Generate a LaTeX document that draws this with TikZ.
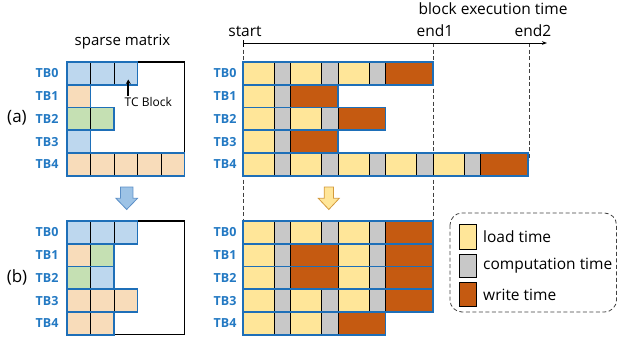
\documentclass[tikz,border=0pt]{standalone}
\usepackage{fontspec}
\setmainfont{Open Sans}
\usetikzlibrary{arrows.meta}

\definecolor{rowblue}{HTML}{1E6FB8}
\definecolor{lblblue}{HTML}{2379C3}
\definecolor{tileblue}{HTML}{BDD7EE}
\definecolor{tileorange}{HTML}{F8DCBA}
\definecolor{tilegreen}{HTML}{C5E0B3}
\definecolor{segL}{HTML}{FFE699}
\definecolor{segC}{HTML}{C8C8C8}
\definecolor{segW}{HTML}{C55A11}
\definecolor{arrblue}{HTML}{9DC3E6}
\definecolor{arrblueedge}{HTML}{5B8FC7}
\definecolor{arryellow}{HTML}{FFE699}
\definecolor{arryellowedge}{HTML}{D39A3C}
\definecolor{guide}{HTML}{404040}

\newcommand\rowh{22.75}
% one row of tiles in the sparse matrix: top y, tile count, tile colours
\newcommand\tilerow[3]{%
  \foreach \clr [count=\i from 0] in {#3}
    \filldraw[fill=\clr, draw=black, line width=0.9pt] ({67+23.5*\i},#1) rectangle ++(23.5,\rowh);
  \draw[rowblue, line width=1.8pt] (67,#1) rectangle ++({23.5*#2},\rowh);
}

% one row of the execution timeline: top y, list of phases (L load, C compute, W write)
\def\wL{31}\def\wC{16.5}\def\wW{47.5}
\newcommand\timerow[2]{%
  \gdef\xcur{243}%
  \foreach \ph in {#2}{%
    \pgfmathsetmacro\xnext{\xcur+\csname w\ph\endcsname}%
    \filldraw[fill=seg\ph, draw=black, line width=0.9pt] (\xcur,#1) rectangle (\xnext,#1+\rowh);%
    \global\let\xcur\xnext
  }%
  \draw[rowblue, line width=1.8pt] (243,#1) rectangle (\xcur,#1+\rowh);
}

% fat down arrow: centre x, shaft half width, head half width, fill, edge
\newcommand\fatarrow[5]{%
  \filldraw[fill=#4, draw=#5, line width=0.8pt, line join=miter]
    ({#1-#2},187) -- ({#1+#2},187) -- ({#1+#2},198.3) -- ({#1+#3},198.3)
    -- (#1,209.5) -- ({#1-#3},198.3) -- ({#1-#2},198.3) -- cycle;
}

\begin{document}
\begin{tikzpicture}[x=1pt,y=-1pt,
  tb/.style={text=lblblue, font=\bfseries\fontsize{12.5}{14}\selectfont, inner sep=0pt},
  big/.style={font=\fontsize{15.5}{18}\selectfont, inner sep=0pt},
  guideline/.style={guide, line width=0.8pt, dash pattern=on 4pt off 2.5pt},
  swatch/.style={draw=black, line width=0.9pt}]
\useasboundingbox (0,0) rectangle (618,340);

% ---------- titles and time axis ----------
\node[big, font=\fontsize{15}{18}\selectfont] (title) at (122.5,42) {sparse matrix};
\node[big] (betime) at (493,9) {block execution time};
\node[big] (start) at (245,31) {start};
\node[big] (end1) at (435,31) {end1};
\node[big] (end2) at (533,31) {end2};

\coordinate (t0) at (243,43);
\coordinate (t1) at (433.3,43);
\coordinate (t2) at (529,43);
\coordinate (tend) at (547,43);
\draw[guideline] (t0) -- (243,220);
\draw[guideline] (t1) -- (433.3,220);
\draw[guideline] (t2) -- (529,160);
\draw[line width=0.8pt, -{Stealth[length=5pt,width=3.6pt]}] (t0) -- (tend);
\draw[line width=0.8pt] (243,40) -- (243,46.5);

% ---------- case (a) ----------
\node[big, font=\fontsize{17}{20}\selectfont] (la) at (17,118) {(a)};
\draw[black, line width=1.3pt] (67,62) rectangle (184.5,175.75);
\tilerow{62}{3}{tileblue,tileblue,tileblue}
\tilerow{84.75}{1}{tileorange}
\tilerow{107.5}{2}{tilegreen,tilegreen}
\tilerow{130.25}{1}{tileblue}
\tilerow{153}{5}{tileorange,tileorange,tileorange,tileorange,tileorange}

\node[font=\fontsize{12}{14}\selectfont, inner sep=1pt, anchor=north] (tc) at (148.3,96) {TC Block};
\coordinate (tctip) at (128.3,79.5);
\draw[line width=1.7pt, -{Stealth[length=4.5pt,width=5pt]}] (tc.north west -| tctip) -- (tctip);

\timerow{62}{L,C,L,C,L,C,W}
\timerow{84.75}{L,C,W}
\timerow{107.5}{L,C,L,C,W}
\timerow{130.25}{L,C,W}
\timerow{153}{L,C,L,C,L,C,L,C,L,C,W}

\foreach \k/\y in {0/73.4,1/96.1,2/118.9,3/141.6,4/164.4}{
  \node[tb] (mla\k) at (47,\y) {TB\k};
  \node[tb] (tla\k) at (225,\y) {TB\k};
}

% ---------- reordering arrows ----------
\fatarrow{126.7}{6.2}{10.8}{arrblue}{arrblueedge}
\fatarrow{328.8}{4.6}{10.5}{arryellow}{arryellowedge}

% ---------- case (b) ----------
\node[big, font=\fontsize{17}{20}\selectfont] (lb) at (17,277) {(b)};
\draw[black, line width=1.3pt] (67,221) rectangle (184.5,334.75);
\tilerow{221}{3}{tileblue,tileblue,tileblue}
\tilerow{243.75}{2}{tileorange,tilegreen}
\tilerow{266.5}{2}{tilegreen,tileblue}
\tilerow{289.25}{3}{tileorange,tileorange,tileorange}
\tilerow{312}{2}{tileorange,tileorange}

\timerow{221}{L,C,L,C,L,C,W}
\timerow{243.75}{L,C,W,L,C,W}
\timerow{266.5}{L,C,W,L,C,W}
\timerow{289.25}{L,C,L,C,L,C,W}
\timerow{312}{L,C,L,C,W}

\foreach \k/\y in {0/232.4,1/255.1,2/277.9,3/300.6,4/323.4}{
  \node[tb] (mlb\k) at (47,\y) {TB\k};
  \node[tb] (tlb\k) at (225,\y) {TB\k};
}

% ---------- legend ----------
\draw[guideline, guide, rounded corners=12pt] (450,213) rectangle (616.5,312);
\filldraw[swatch, fill=segL] (459.5,224.5) rectangle (476,249);
\filldraw[swatch, fill=segC] (459.5,254) rectangle (476,277.5);
\filldraw[swatch, fill=segW] (459.5,282) rectangle (476,306);
\node[big, anchor=west] (kl) at (483,236.5) {load time};
\node[big, anchor=west] (kc) at (483,265.5) {computation time};
\node[big, anchor=west] (kw) at (483,294.5) {write time};
\end{tikzpicture}
\end{document}
